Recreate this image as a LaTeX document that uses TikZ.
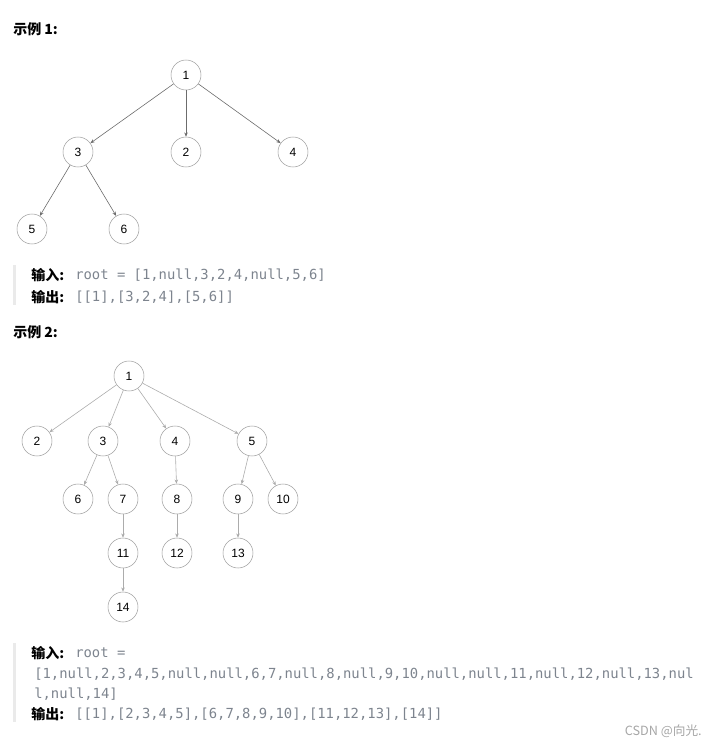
\documentclass[tikz,border=0pt]{standalone}
\usepackage{fontspec}
\setmainfont{Liberation Sans}
\newfontfamily\cjk{Noto Sans CJK SC}
\newfontfamily\codefont{DejaVu Sans Mono}
\usetikzlibrary{arrows.meta,positioning}
\definecolor{codegray}{RGB}{125,132,142}
\definecolor{bargray}{RGB}{234,234,234}

\begin{document}
\begin{tikzpicture}[
x=0.75pt, y=-0.75pt,
font=\fontsize{9}{10}\selectfont,
vertex/.style={circle,draw=gray!75,thin,minimum size=22.5pt,inner sep=0pt},
edgeA/.style={->,draw=gray!85!black,line width=0.45pt,>={Stealth[length=3.2pt,width=2.6pt]}},
edgeB/.style={->,draw=gray!65,line width=0.45pt,>={Stealth[length=3.2pt,width=2.6pt]}},
title/.style={anchor=west,inner sep=0pt,font=\cjk\bfseries\fontsize{10.5}{12}\selectfont},
code/.style={anchor=west,inner sep=0pt,text=codegray,font=\codefont\fontsize{10.4}{12}\selectfont}
]
    \useasboundingbox (0,0) rectangle (716,746);

    % Example 1
    \node[title] (t1) at (13,29) {示例 1:};
    \node[vertex] (a1) at (186,75) {1};
    \node[vertex] (a3) at (78,152) {3};
    \node[vertex] (a2) at (186,152) {2};
    \node[vertex] (a4) at (293,152) {4};
    \node[vertex] (a5) at (32,229) {5};
    \node[vertex] (a6) at (124,229) {6};
    \foreach \s/\t in {a1/a3,a1/a2,a1/a4,a3/a5,a3/a6}
        \draw[edgeA] (\s) -- (\t);

    \fill[bargray] (13,265) rectangle (16,305);
    \node[title] (in1) at (31,275) {输入:};
    \node[code] (inc1) at (75,275) {root = [1,null,3,2,4,null,5,6]};
    \node[title] (out1) at (31,297) {输出:};
    \node[code] (outc1) at (75,297) {[[1],[3,2,4],[5,6]]};

    % Example 2
    \node[title] (t2) at (13,332) {示例 2:};
    \node[vertex] (b1) at (129,376) {1};
    \node[vertex] (b2) at (37,441) {2};
    \node[vertex] (b3) at (103,441) {3};
    \node[vertex] (b4) at (175,441) {4};
    \node[vertex] (b5) at (252,441) {5};
    \node[vertex] (b6) at (78,499) {6};
    \node[vertex] (b7) at (123,499) {7};
    \node[vertex] (b8) at (177,499) {8};
    \node[vertex] (b9) at (238,499) {9};
    \node[vertex] (b10) at (283,499) {10};
    \node[vertex] (b11) at (123,553) {11};
    \node[vertex] (b12) at (177,553) {12};
    \node[vertex] (b13) at (238,553) {13};
    \node[vertex] (b14) at (123,607) {14};
    \foreach \s/\t in {b1/b2,b1/b3,b1/b4,b1/b5,b3/b6,b3/b7,b4/b8,b5/b9,b5/b10,b7/b11,b8/b12,b9/b13,b11/b14}
        \draw[edgeB] (\s) -- (\t);

    \fill[bargray] (13,643) rectangle (16,722);
    \node[title] (in2) at (31,653) {输入:};
    \node[code] (inc2) at (75,653) {root =};
    \node[code] (inc2b) at (34,674) {[1,null,2,3,4,5,null,null,6,7,null,8,null,9,10,null,null,11,null,12,null,13,nul};
    \node[code] (inc2c) at (34,694) {l,null,14]};
    \node[title] (out2) at (31,714) {输出:};
    \node[code] (outc2) at (75,714) {[[1],[2,3,4,5],[6,7,8,9,10],[11,12,13],[14]]};

    \node[anchor=east,inner sep=0pt,text=gray!70,font=\cjk\fontsize{9.5}{11}\selectfont] (mark) at (702,731) {CSDN @向光.};
\end{tikzpicture}
\end{document}
